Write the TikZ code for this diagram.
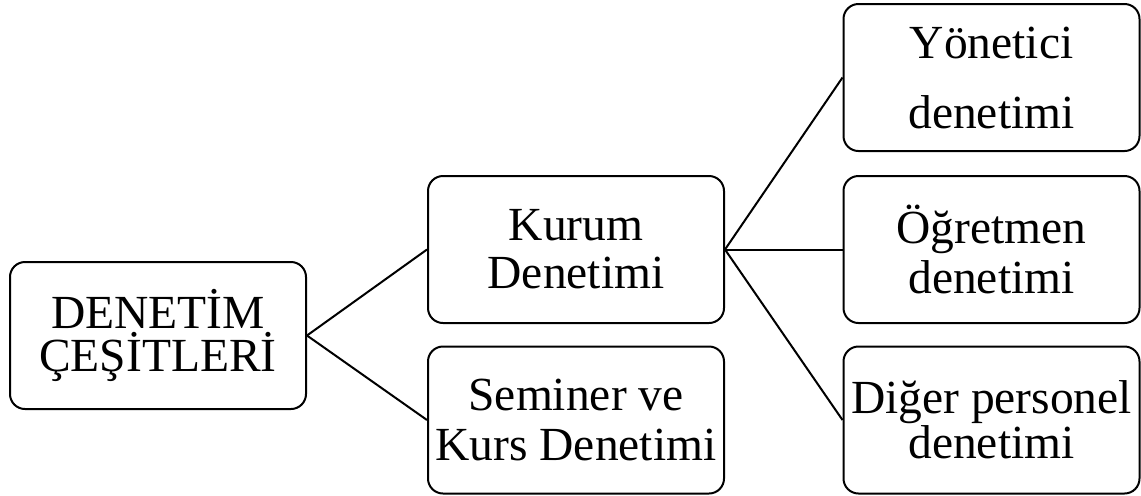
\documentclass[tikz,border=0pt]{standalone}
\usepackage{fontspec}
\setmainfont{Liberation Serif}
\begin{document}
\begin{tikzpicture}[x=0.5pt,y=-0.5pt,
  box/.style={draw=black, line width=1pt, rounded corners=7.5pt, rectangle,
    minimum width=148pt, minimum height=73.5pt, inner sep=0pt, align=center},
  conn/.style={draw=black, line width=1pt},
  fs/.style={font=\fontsize{23.75}{#1}\selectfont}]
\useasboundingbox (0,0) rectangle (1141,495);
\fill[white] (0,0) rectangle (1141,495);
\node[box, fs=21.5pt] (root) at (158,335.5) {DENETİM\\ÇEŞİTLERİ};
\node[box, fs=24pt] (kurum) at (576,249.5) {Kurum\\Denetimi};
\node[box, fs=25pt] (seminer) at (576,420) {Seminer ve\\Kurs Denetimi};
\node[box, fs=35pt] (yonetici) at (991.5,77.5) {Yönetici\\denetimi};
\node[box, fs=25pt] (ogretmen) at (991.5,249.5) {Öğretmen\\denetimi};
\node[box, fs=21pt] (diger) at (991.5,420) {Diğer personel\\denetimi};
\draw[conn] (root.east) -- (kurum.west);
\draw[conn] (root.east) -- (seminer.west);
\draw[conn] (kurum.east) -- (yonetici.west);
\draw[conn] (kurum.east) -- (ogretmen.west);
\draw[conn] (kurum.east) -- (diger.west);
\end{tikzpicture}
\end{document}
